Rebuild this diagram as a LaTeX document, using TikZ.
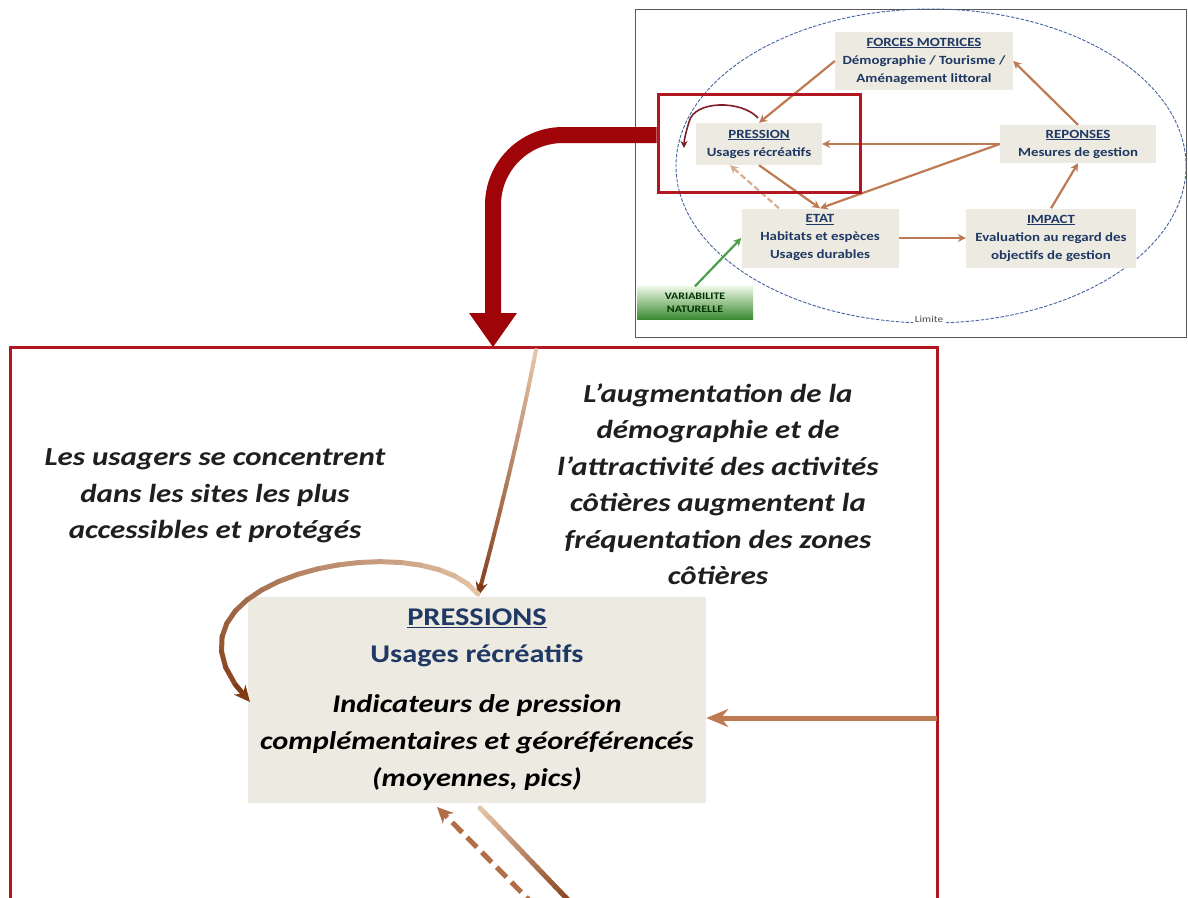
\documentclass[tikz,border=0pt]{standalone}
\usepackage{fontspec}
\setmainfont{Carlito}[FakeStretch=1.19]
\usetikzlibrary{arrows.meta,calc}
\definecolor{frame}{RGB}{178,22,32}
\definecolor{bigred}{RGB}{158,4,8}
\definecolor{boxfill}{RGB}{236,234,225}
\definecolor{tblue}{RGB}{31,56,100}
\definecolor{brD}{RGB}{128,58,22}
\definecolor{brM}{RGB}{190,122,82}
\definecolor{brL}{RGB}{228,196,168}
\definecolor{ellblue}{RGB}{70,100,160}
\definecolor{gTop}{RGB}{236,246,228}
\definecolor{gBot}{RGB}{58,138,48}
\definecolor{maroon}{RGB}{125,30,40}

\newcommand\gradcurve[8]{%
  \path #1 .. controls #2 and #3 .. #4
    \foreach \k [evaluate=\k as \tpos using \k/20] in {0,...,20}{coordinate[pos=\tpos] (g\k)};
  \foreach \k [evaluate=\k as \kn using int(\k+1), evaluate=\k as \pc using int(100-5*\k)] in {0,...,18}
    {\draw[line width=#7, line cap=round, color=#5!\pc!#6] (g\k) -- (g\kn);}
  \draw[line width=#7, color=#6, #8] (g19) -- (g20);
}

\tikzset{
  ibox/.style={fill=boxfill, inner sep=0pt, align=center, text=tblue,
    font=\fontsize{12.5}{18}\selectfont\bfseries},
  iarrow/.style={line width=2.2pt, color=brM, -{Stealth[length=8pt,width=8pt]}},
  lab/.style={align=center, font=\fontsize{26}{36.5}\selectfont\bfseries\itshape, text=black!88},
}

\begin{document}
\begin{tikzpicture}[x=1pt,y=-1pt]
\useasboundingbox (0,0) rectangle (1188,897);
\clip (0,0) rectangle (1188,897);
\fill[white] (0,0) rectangle (1188,897);

% ---------- inset ----------
\draw[black!65, line width=0.8pt, fill=white] (635,9) rectangle (1186,337);
\draw[ellblue, line width=0.9pt, dash pattern=on 3.5pt off 1.5pt] (931,166) ellipse [x radius=255, y radius=157];
\node[fill=white, inner sep=2pt, text=black!70, font=\fontsize{9.5}{11}\selectfont] (lim) at (929,319) {Limite};

\node[ibox, minimum width=178, minimum height=58] (F) at (924,61)
  {\underline{FORCES MOTRICES}\\Démographie / Tourisme /\\Aménagement littoral};
\node[ibox, minimum width=126, minimum height=42] (P) at (759,144)
  {\underline{PRESSION}\\Usages récréatifs};
\node[ibox, minimum width=156, minimum height=38] (R) at (1078,144)
  {\underline{REPONSES}\\Mesures de gestion};
\node[ibox, minimum width=157, minimum height=59] (E) at (820,238)
  {\underline{ETAT}\\Habitats et espèces\\Usages durables};
\node[ibox, minimum width=170, minimum height=59] (I) at (1051,238)
  {\underline{IMPACT}\\Evaluation au regard des\\objectifs de gestion};
\node[top color=gTop, bottom color=gBot, minimum width=116, minimum height=33, inner sep=0pt,
  align=center, text=black!80!green, font=\fontsize{10}{13}\selectfont\bfseries] (V) at (695,303)
  {VARIABILITE\\NATURELLE};

\draw[iarrow] (F.west) -- (P.north);
\draw[iarrow] (R.north) -- (F.east);
\draw[iarrow] (R.west) -- (P.east);
\draw[iarrow] (R.west) -- (E.north);
\draw[iarrow] (P.south) -- (E.north);
\draw[iarrow, color=brL!70!brM, dash pattern=on 6pt off 3pt] ([xshift=-41pt]E.north) -- ([xshift=-29pt]P.south);
\draw[iarrow] (E.east) -- (I.west);
\draw[iarrow] (I.north) -- (R.south);
\draw[iarrow, color=green!45!black!70] (V.north) -- (E.west);
\coordinate (loopS) at (758,118);
\coordinate (loopE) at (684,148);
\draw[maroon, line width=1.6pt, -{Stealth[length=7pt,width=7pt,open]}]
  (loopS) .. controls (742,100) and (694,100) .. (689,122) .. controls (686,132) and (684,140) .. (loopE);

\node[draw=frame, line width=3pt, minimum width=202, minimum height=98, inner sep=0pt] (RR) at (759,143) {};

% ---------- big arrow ----------
\coordinate (bs) at ([yshift=8pt]RR.west);
\coordinate (bc) at (493,135);
\coordinate (bt) at (493,316);
\draw[bigred, line width=16pt, rounded corners=70pt] (bs) -- (bc) -- (bt);
\fill[bigred] (469,313) -- (517,313) -- (493,347) -- cycle;

% ---------- main frame ----------
\draw[frame, line width=3pt] (10,910) -- (10,347) -- (937,347) -- (937,910);

% ---------- main box ----------
\node[fill=boxfill, minimum width=458, minimum height=206, inner sep=0pt, align=center,
  font=\fontsize{25.5}{37}\selectfont\bfseries] (PB) at (477,700)
  {\textcolor{tblue}{\underline{PRESSIONS}}\\\textcolor{tblue}{Usages récréatifs}\\[13pt]\textit{Indicateurs de pression}\\\textit{complémentaires et géoréférencés}\\\textit{(moyennes, pics)}};

\node[lab] (L1) at (215,496) {Les usagers se concentrent\\dans les sites les plus\\accessibles et protégés};
\node[lab] (L2) at (718,484) {L’augmentation de la\\démographie et de\\l’attractivité des activités\\côtières augmentent la\\fréquentation des zones\\côtières};

% ---------- connectors ----------
\coordinate (tA) at (536,350);
\coordinate (tB) at (478,596);
\gradcurve{(tA)}{(520,432)}{(500,514)}{(tB)}{brL}{brD}{4pt}{-{Stealth[length=14pt,width=12pt]}}
\gradcurve{(478,594)}{(420,520)}{(130,580)}{(250,702)}{brL}{brD}{5pt}{-{Stealth[length=16pt,width=15pt]}}

\coordinate (rin) at (937,718);
\draw[brM, line width=5pt, -{Stealth[length=22pt,width=18pt]}] (rin) -- (PB.east |- rin);

\coordinate (s1) at (480,808);
\coordinate (s2) at (575,907);
\gradcurve{(s1)}{(512,841)}{(543,874)}{(s2)}{brL}{brD}{5pt}{-}
\coordinate (d1) at (536,907);
\draw[color=brM!80!brD, line width=5pt, dash pattern=on 14pt off 7pt, -{Stealth[length=16pt,width=15pt]}] (d1) -- (437,807);
\end{tikzpicture}
\end{document}
